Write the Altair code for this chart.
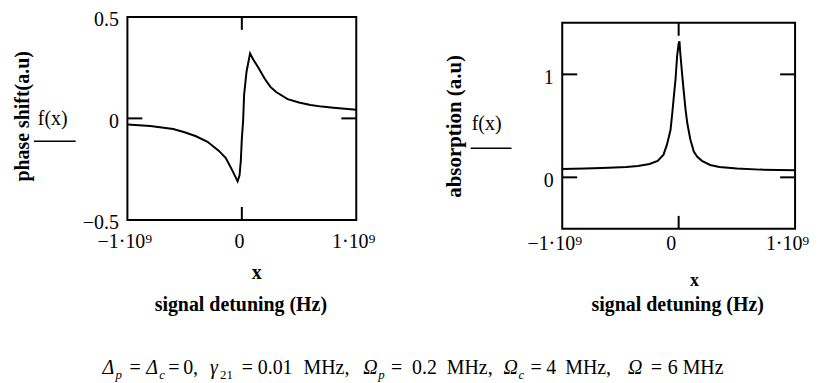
import altair as alt
import pandas as pd

# ---------------- data ----------------
# left panel: phase shift (a.u) versus signal detuning (Hz)
phase_x = [-1.0e9, -0.8e9, -0.6e9, -0.5e9, -0.4e9, -0.3e9, -0.2e9, -0.14e9, -0.08e9,
           -0.037e9, -0.02e9, -0.009e9, 0.0, 0.011e9, 0.02e9, 0.041e9, 0.072e9,
           0.1e9, 0.15e9, 0.2e9, 0.25e9, 0.3e9, 0.4e9, 0.5e9, 0.6e9, 0.7e9, 0.8e9,
           0.9e9, 1.0e9]
phase_y = [-0.030, -0.038, -0.052, -0.068, -0.088, -0.115, -0.160, -0.195, -0.260,
           -0.310, -0.280, -0.210, -0.100, -0.015, 0.117, 0.230, 0.320,
           0.290, 0.245, 0.195, 0.155, 0.130, 0.095, 0.078, 0.066, 0.058, 0.052,
           0.047, 0.043]

# right panel: absorption (a.u) versus signal detuning (Hz)
abs_x = [-1.0e9, -0.8e9, -0.6e9, -0.45e9, -0.35e9, -0.25e9, -0.18e9, -0.13e9, -0.1e9,
         -0.07e9, -0.055e9, -0.04e9, -0.027e9, -0.013e9, 0.0, 0.007e9, 0.013e9,
         0.03e9, 0.045e9, 0.06e9, 0.075e9, 0.1e9, 0.13e9, 0.16e9, 0.2e9, 0.27e9,
         0.35e9, 0.5e9, 0.7e9, 1.0e9]
abs_y = [0.080, 0.085, 0.092, 0.100, 0.110, 0.130, 0.160, 0.220, 0.320,
         0.460, 0.620, 0.800, 0.950, 1.180, 1.300, 1.320, 1.220,
         1.000, 0.820, 0.650, 0.520, 0.370, 0.250, 0.200, 0.160, 0.120,
         0.100, 0.085, 0.075, 0.068]

x_tick_vals = [-1.0e9, 0.0, 1.0e9]
x_inner_ticks = [0.0]
left_y_ticks = [-0.5, 0.0, 0.5]
left_y_inner = [0.0]
right_y_ticks = [0.0, 1.0]
right_y_inner = [0.0, 1.0]

left_title = "phase shift(a.u)"
right_title = "absorption (a.u)"
func_label = "f(x)"
var_label = "x"
x_title = "signal detuning (Hz)"

# caption pieces: text and kind (r regular, i italic, s italic subscript, d regular subscript)
cap_text = ["Δ", "p", "=", "Δ", "c", "=", "0,", "γ", "21", "=", "0.01", "MHz,",
            "Ω", "p", "=", "0.2", "MHz,", "Ω", "c", "=", "4", "MHz,", "Ω", "=", "6", "MHz"]
cap_kind = ["i", "s", "r", "i", "s", "r", "r", "i", "d", "r", "r", "r",
            "i", "s", "r", "r", "r", "i", "s", "r", "r", "r", "i", "r", "r", "r"]
# layout: left edge of every caption piece, in page pixels
cap_left = [102, 115, 129, 146, 159, 168, 183, 210, 220, 242, 258, 304,
            364, 379, 392, 413, 448, 505, 520, 532, 548, 567, 630, 653, 670, 685]

# ---------------- layout / style ----------------
FONT = "Liberation Serif"
LW, LH = 230, 204          # left plot area
RW, RH = 234, 207          # right plot area
GAP = 207
LX0, LY0 = 127, 15         # left plot origin on the page
CAP_FS = 20
SUB_FS = 13
CAP_BASE = 374
TICK_FS = 20

xlab_expr = "datum.value < 0 ? '−1·10⁹' : (datum.value > 0 ? '1·10⁹' : '0')"


def one():
    return pd.DataFrame({"a": [0]})


def ann(text, x, y, size=20, bold=True, angle=0, baseline="alphabetic", align="center",
        italic=False):
    kw = dict(text=text, font=FONT, fontSize=size, color="black",
              fontWeight="bold" if bold else "normal", baseline=baseline, align=align)
    if angle:
        kw["angle"] = angle
    if italic:
        kw["fontStyle"] = "italic"
    return alt.Chart(one()).mark_text(**kw).encode(x=alt.value(x), y=alt.value(y))


def underline(x1, x2, y):
    return alt.Chart(one()).mark_rule(color="black", strokeWidth=1.5).encode(
        x=alt.value(x1), x2=alt.value(x2), y=alt.value(y))


def panel(xs, ys, ydom, yvals, ylabexpr, yinner, w, h, xlabpad, xlaboff, ylaboff):
    xscale = alt.Scale(domain=[-1.0e9, 1.0e9], nice=False, zero=False)
    yscale = alt.Scale(domain=ydom, nice=False, zero=False)
    xaxis = alt.Axis(values=x_tick_vals, labelExpr=xlab_expr, labelFlush=False,
                     labelPadding=xlabpad, labelOffset=xlaboff, labelFont=FONT,
                     labelFontSize=TICK_FS, labelColor="black", domain=False,
                     ticks=False, grid=False, title=None)
    yaxis = alt.Axis(values=yvals, labelExpr=ylabexpr, labelFlush=False,
                     labelPadding=9, labelOffset=ylaboff, labelFont=FONT,
                     labelFontSize=TICK_FS, labelColor="black", domain=False,
                     ticks=False, grid=False, title=None)
    df = pd.DataFrame({"x": xs, "y": ys})
    line = alt.Chart(df).mark_line(color="black", strokeWidth=2, clip=True).encode(
        x=alt.X("x:Q", scale=xscale, axis=xaxis),
        y=alt.Y("y:Q", scale=yscale, axis=yaxis),
    )
    ydf = pd.DataFrame({"y": yinner})
    xdf = pd.DataFrame({"x": x_inner_ticks})
    yl = alt.Chart(ydf).mark_rule(color="black", strokeWidth=2).encode(
        y=alt.Y("y:Q", scale=yscale, axis=yaxis), x=alt.value(0), x2=alt.value(15))
    yr = alt.Chart(ydf).mark_rule(color="black", strokeWidth=2).encode(
        y=alt.Y("y:Q", scale=yscale, axis=yaxis), x=alt.value(w - 15), x2=alt.value(w))
    xt = alt.Chart(xdf).mark_rule(color="black", strokeWidth=2).encode(
        x=alt.X("x:Q", scale=xscale, axis=xaxis), y=alt.value(0), y2=alt.value(13))
    xb = alt.Chart(xdf).mark_rule(color="black", strokeWidth=2).encode(
        x=alt.X("x:Q", scale=xscale, axis=xaxis), y=alt.value(h - 13), y2=alt.value(h))
    return [line, yl, yr, xt, xb]


cap_layers = []
for t, k, px in zip(cap_text, cap_kind, cap_left):
    sub = k in "sd"
    cap_layers.append(ann(t, px - LX0, CAP_BASE - LY0 + (5 if sub else 0),
                          size=SUB_FS if sub else CAP_FS, bold=False, align="left",
                          italic=k in "is"))

left_layers = panel(phase_x, phase_y, [-0.5, 0.5], left_y_ticks,
                    "datum.value < 0 ? '−0.5' : (datum.value > 0 ? '0.5' : '0')",
                    left_y_inner, LW, LH, 12, -3, 3)
left_layers += [
    ann(left_title, -105, 100, angle=270, baseline="middle"),
    ann(func_label, -75, 109, size=20, bold=False),
    underline(-94, -52, 125),
    ann(var_label, 130, 257, size=20, baseline="middle"),
    ann(x_title, 114, 296),
] + cap_layers

right_layers = panel(abs_x, abs_y, [-0.5, 1.5], right_y_ticks,
                     "datum.value > 0 ? '1' : '0'",
                     right_y_inner, RW, RH, 5, -8, 3)
right_layers += [
    ann(right_title, -108, 104, angle=270, baseline="middle", size=21),
    ann(func_label, -76, 108, size=20, bold=False),
    underline(-92, -51, 126),
    ann(var_label, 133, 259, size=18, baseline="middle"),
    ann(x_title, 116, 290),
]

left = alt.layer(*left_layers).properties(width=LW, height=LH)
right = alt.layer(*right_layers).properties(width=RW, height=RH)
spacer = alt.Chart(one()).mark_text(text=" ").encode(
    x=alt.value(0), y=alt.value(0)).properties(
    width=RW, height=6, view=alt.ViewBackground(strokeOpacity=0))

right_col = alt.vconcat(spacer, right, spacing=0, bounds="flush")

chart = alt.hconcat(left, right_col, spacing=GAP, bounds="flush").properties(
    padding={"left": 4, "top": 0, "right": 0, "bottom": 0},
    background="white",
).configure(font=FONT).configure_axis(
    labelFont=FONT, labelFontSize=TICK_FS, labelColor="black"
).configure_view(stroke="black", strokeWidth=2)

chart.save("out.html", embed_options={"renderer": "svg", "actions": False})
